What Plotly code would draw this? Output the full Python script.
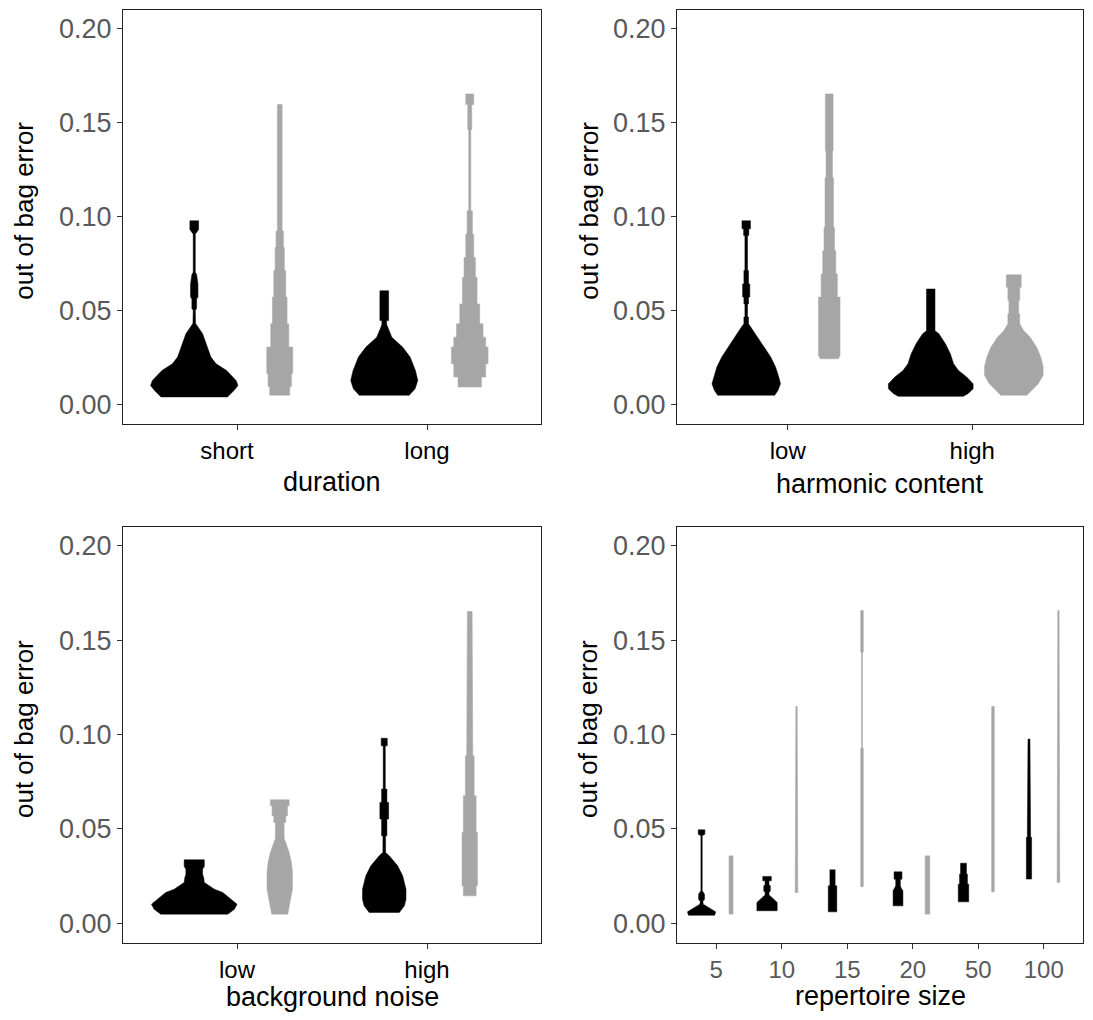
import plotly.graph_objects as go

# ---------------- data ----------------
# Violin profiles: (out-of-bag error, violin full width in category units)
DURATION_CATS = ["short", "long"]
DUR_SHORT_BLACK = [(0.0039, 0.35), (0.0074, 0.42), (0.0100, 0.46), (0.0127, 0.44), (0.0180, 0.34),
                   (0.0215, 0.23), (0.0251, 0.175), (0.0304, 0.14), (0.0375, 0.088), (0.043, 0.014),
                   (0.050, 0.011), (0.051, 0.025), (0.056, 0.025), (0.057, 0.039), (0.064, 0.039),
                   (0.069, 0.025), (0.0702, 0.011), (0.0905, 0.011), (0.092, 0.032), (0.093, 0.046),
                   (0.0976, 0.046)]
DUR_SHORT_GREY = [(0.0048, 0.105), (0.0094, 0.105), (0.0094, 0.123), (0.0163, 0.123), (0.0163, 0.137),
                  (0.0304, 0.137), (0.0304, 0.095), (0.0428, 0.095), (0.0428, 0.077), (0.0570, 0.077),
                  (0.0570, 0.063), (0.0711, 0.063), (0.0711, 0.049), (0.0834, 0.049), (0.0834, 0.039),
                  (0.0922, 0.039), (0.0922, 0.025), (0.1594, 0.025)]
DUR_LONG_BLACK = [(0.0048, 0.263), (0.0083, 0.325), (0.0127, 0.353), (0.0180, 0.328), (0.0251, 0.272),
                  (0.0304, 0.193), (0.0357, 0.079), (0.0410, 0.035), (0.0425, 0.025), (0.0445, 0.025),
                  (0.0445, 0.046), (0.0604, 0.046)]
DUR_LONG_GREY = [(0.0092, 0.123), (0.0145, 0.123), (0.0145, 0.168), (0.0216, 0.168), (0.0216, 0.193),
                 (0.0304, 0.193), (0.0304, 0.168), (0.0357, 0.168), (0.0357, 0.140), (0.0428, 0.140),
                 (0.0428, 0.105), (0.0534, 0.105), (0.0534, 0.077), (0.0675, 0.077), (0.0675, 0.060),
                 (0.0781, 0.060), (0.0781, 0.042), (0.0905, 0.042), (0.0905, 0.028), (0.1029, 0.028),
                 (0.1029, 0.011), (0.1462, 0.011), (0.1462, 0.021), (0.1594, 0.021), (0.1594, 0.042),
                 (0.1651, 0.042)]

HARMONIC_CATS = ["low", "high"]
HARM_LOW_BLACK = [(0.0048, 0.309), (0.0074, 0.345), (0.0109, 0.371), (0.0145, 0.353), (0.0198, 0.318),
                  (0.0251, 0.265), (0.0304, 0.194), (0.0357, 0.124), (0.0410, 0.053), (0.0428, 0.025),
                  (0.0464, 0.025), (0.0464, 0.014), (0.0534, 0.014), (0.0534, 0.025), (0.0570, 0.025),
                  (0.0570, 0.039), (0.0640, 0.039), (0.0640, 0.025), (0.0711, 0.025), (0.0711, 0.014),
                  (0.0898, 0.014), (0.0898, 0.028), (0.0933, 0.028), (0.0933, 0.046), (0.0976, 0.046)]
HARM_LOW_GREY = [(0.0242, 0.099), (0.0261, 0.117), (0.0570, 0.117), (0.0570, 0.088), (0.0693, 0.088),
                 (0.0693, 0.071), (0.0817, 0.071), (0.0817, 0.057), (0.0940, 0.057), (0.0940, 0.046),
                 (0.1205, 0.046), (0.1205, 0.035), (0.1347, 0.035), (0.1347, 0.042), (0.1651, 0.042)]
HARM_HIGH_BLACK = [(0.0042, 0.353), (0.0057, 0.406), (0.0083, 0.459), (0.0109, 0.459), (0.0145, 0.389),
                   (0.0180, 0.300), (0.0216, 0.247), (0.0269, 0.212), (0.0322, 0.159), (0.0375, 0.088),
                   (0.0391, 0.046), (0.0613, 0.046)]
HARM_HIGH_GREY = [(0.0048, 0.141), (0.0074, 0.194), (0.0109, 0.265), (0.0154, 0.318), (0.0198, 0.318),
                  (0.0251, 0.292), (0.0304, 0.247), (0.0357, 0.177), (0.0393, 0.106), (0.0428, 0.064),
                  (0.0481, 0.064), (0.0481, 0.053), (0.0552, 0.053), (0.0552, 0.064), (0.0622, 0.064),
                  (0.0622, 0.081), (0.0689, 0.081)]

NOISE_CATS = ["low", "high"]
NOISE_LOW_BLACK = [(0.0048, 0.353), (0.0074, 0.423), (0.0101, 0.450), (0.0127, 0.388), (0.0163, 0.300),
                   (0.0180, 0.212), (0.0198, 0.159), (0.0216, 0.106), (0.0240, 0.100), (0.0260, 0.088),
                   (0.0287, 0.088), (0.0300, 0.106), (0.0336, 0.106)]
NOISE_LOW_GREY = [(0.0048, 0.085), (0.0074, 0.092), (0.0127, 0.113), (0.0180, 0.134), (0.0269, 0.134),
                  (0.0322, 0.123), (0.0375, 0.099), (0.0428, 0.063), (0.0450, 0.046), (0.0534, 0.046),
                  (0.0534, 0.063), (0.0569, 0.063), (0.0569, 0.081), (0.0622, 0.081), (0.0622, 0.099),
                  (0.0654, 0.099)]
NOISE_HIGH_BLACK = [(0.0057, 0.159), (0.0092, 0.212), (0.0127, 0.229), (0.0180, 0.229), (0.0251, 0.194),
                    (0.0304, 0.141), (0.0357, 0.053), (0.0375, 0.014), (0.0463, 0.014), (0.0463, 0.028),
                    (0.0552, 0.028), (0.0552, 0.046), (0.0640, 0.046), (0.0640, 0.028), (0.0711, 0.028),
                    (0.0711, 0.011), (0.0940, 0.011), (0.0940, 0.032), (0.0980, 0.032)]
NOISE_HIGH_GREY = [(0.0145, 0.067), (0.0198, 0.067), (0.0198, 0.081), (0.0481, 0.081), (0.0481, 0.067),
                   (0.0676, 0.067), (0.0676, 0.046), (0.0888, 0.046), (0.0888, 0.032), (0.0932, 0.032),
                   (0.0932, 0.025), (0.1652, 0.025)]

REPERTOIRE_CATS = ["5", "10", "15", "20", "50", "100"]
REP_5_BLACK = [(0.0042, 0.40), (0.0060, 0.43), (0.0074, 0.30), (0.0090, 0.15), (0.0101, 0.05),
               (0.0115, 0.04), (0.0127, 0.09), (0.0154, 0.09), (0.0172, 0.02), (0.0464, 0.02),
               (0.0472, 0.10), (0.0495, 0.10)]
REP_5_GREY = [(0.0048, 0.06), (0.0357, 0.06)]
REP_10_BLACK = [(0.0066, 0.31), (0.0110, 0.31), (0.0136, 0.15), (0.0150, 0.06), (0.0163, 0.06),
                (0.0170, 0.10), (0.0198, 0.10), (0.0205, 0.06), (0.0225, 0.06), (0.0225, 0.13),
                (0.0248, 0.13)]
REP_10_GREY = [(0.0163, 0.04), (0.0737, 0.04), (0.0737, 0.02), (0.1149, 0.02)]
REP_15_BLACK = [(0.0060, 0.13), (0.0198, 0.13), (0.0198, 0.08), (0.0283, 0.08)]
REP_15_GREY = [(0.0193, 0.04), (0.0927, 0.04), (0.0927, 0.015), (0.1436, 0.015), (0.1436, 0.04),
               (0.1657, 0.04)]
REP_20_BLACK = [(0.0092, 0.15), (0.0172, 0.15), (0.0185, 0.10), (0.0198, 0.07), (0.0233, 0.07),
                (0.0233, 0.12), (0.0272, 0.12)]
REP_20_GREY = [(0.0048, 0.07), (0.0357, 0.07)]
REP_50_BLACK = [(0.0113, 0.16), (0.0207, 0.16), (0.0207, 0.12), (0.0260, 0.12), (0.0260, 0.09),
                (0.0318, 0.09)]
REP_50_GREY = [(0.0166, 0.04), (0.1149, 0.04)]
REP_100_BLACK = [(0.0234, 0.08), (0.0455, 0.08), (0.0455, 0.05), (0.0560, 0.05), (0.0560, 0.03),
                 (0.0976, 0.03)]
REP_100_GREY = [(0.0216, 0.04), (0.0825, 0.04), (0.0825, 0.02), (0.1657, 0.02)]

Y_TICKS = [0.0, 0.05, 0.10, 0.15, 0.20]
Y_TICK_TEXT = ["0.00", "0.05", "0.10", "0.15", "0.20"]
Y_TITLE = "out of bag error"

PANELS = [
    dict(cats=DURATION_CATS, title="duration",
         violins=[(0, "black", DUR_SHORT_BLACK), (0, "grey", DUR_SHORT_GREY),
                  (1, "black", DUR_LONG_BLACK), (1, "grey", DUR_LONG_GREY)]),
    dict(cats=HARMONIC_CATS, title="harmonic content",
         violins=[(0, "black", HARM_LOW_BLACK), (0, "grey", HARM_LOW_GREY),
                  (1, "black", HARM_HIGH_BLACK), (1, "grey", HARM_HIGH_GREY)]),
    dict(cats=NOISE_CATS, title="background noise",
         violins=[(0, "black", NOISE_LOW_BLACK), (0, "grey", NOISE_LOW_GREY),
                  (1, "black", NOISE_HIGH_BLACK), (1, "grey", NOISE_HIGH_GREY)]),
    dict(cats=REPERTOIRE_CATS, title="repertoire size",
         violins=[(0, "black", REP_5_BLACK), (0, "grey", REP_5_GREY),
                  (1, "black", REP_10_BLACK), (1, "grey", REP_10_GREY),
                  (2, "black", REP_15_BLACK), (2, "grey", REP_15_GREY),
                  (3, "black", REP_20_BLACK), (3, "grey", REP_20_GREY),
                  (4, "black", REP_50_BLACK), (4, "grey", REP_50_GREY),
                  (5, "black", REP_100_BLACK), (5, "grey", REP_100_GREY)]),
]

# ---------------- style / layout ----------------
PAGE_OFFSET = 8            # default body margin of the html page
W, H = 1093 - 2 * PAGE_OFFSET, 1020 - 2 * PAGE_OFFSET   # keep the page from scrolling/clipping
COLORS = {"black": "#000000", "grey": "#a6a6a6"}
DODGE = {"black": -0.225, "grey": 0.225}
FONT = "Liberation Sans, Arial, sans-serif"
NBSP = "\u00a0"

# panel boxes in screen pixels: (left, right, top, bottom)
BOXES = [(123, 541, 9.5, 424), (677, 1083, 9.5, 424), (123, 541, 527, 943), (677, 1083, 527, 943)]
YTITLE_X = [24, 589, 24, 588]
XTITLE_Y = [482, 484, 997, 996]
XTICK_COLORS = ["#000000", "#000000", "#000000", "#595959"]


def px_x(v):
    return (v - PAGE_OFFSET) / W


def px_y(v):
    return 1 - (v - PAGE_OFFSET) / H


fig = go.Figure()
layout = dict(width=W, height=H, margin=dict(l=0, r=0, t=0, b=0),
              paper_bgcolor="white", plot_bgcolor="white", showlegend=False,
              font=dict(family=FONT), annotations=[])

for i, panel in enumerate(PANELS):
    n = i + 1
    xa = "x" if n == 1 else f"x{n}"
    ya = "y" if n == 1 else f"y{n}"
    for idx, grp, prof in panel["violins"]:
        c = idx + 1 + DODGE[grp]
        ys = [p[0] for p in prof]
        ws = [p[1] for p in prof]
        xs = [c + w / 2 for w in ws] + [c - w / 2 for w in reversed(ws)]
        yy = ys + ys[::-1]
        fig.add_trace(go.Scatter(x=xs + [xs[0]], y=yy + [yy[0]], mode="lines", fill="toself",
                                 fillcolor=COLORS[grp], line=dict(color=COLORS[grp], width=0.5),
                                 xaxis=xa, yaxis=ya, hoverinfo="skip", showlegend=False))
    l, r, t, b = BOXES[i]
    ncat = len(panel["cats"])
    ticktext = list(panel["cats"])
    if i == 0:
        # the reference shows the first label slightly left of its tick
        ticktext[0] = ticktext[0] + NBSP * 3
    axis_common = dict(showline=True, linecolor="#222222", linewidth=1.3, mirror=True,
                       ticks="outside", ticklen=5, tickcolor="#333333", tickwidth=1.2,
                       showgrid=False, zeroline=False, fixedrange=True)
    layout["xaxis" if n == 1 else f"xaxis{n}"] = dict(
        axis_common, domain=[px_x(l), min(px_x(r), 1.0)], anchor=ya, range=[0.4, ncat + 0.6],
        tickmode="array", tickvals=list(range(1, ncat + 1)), ticktext=ticktext,
        tickfont=dict(size=24, color=XTICK_COLORS[i], family=FONT))
    layout["yaxis" if n == 1 else f"yaxis{n}"] = dict(
        axis_common, domain=[px_y(b), min(px_y(t), 1.0)], anchor=xa, range=[-0.0105, 0.21],
        tickmode="array", tickvals=Y_TICKS, ticktext=Y_TICK_TEXT,
        tickfont=dict(size=27, color="#595959", family=FONT))
    layout["annotations"].append(dict(
        text=Y_TITLE, xref="paper", yref="paper", x=px_x(YTITLE_X[i]), y=px_y((t + b) / 2 - 6),
        xanchor="center", yanchor="middle", textangle=-90, showarrow=False,
        font=dict(size=26, color="#000000", family=FONT)))
    layout["annotations"].append(dict(
        text=panel["title"], xref="paper", yref="paper", x=px_x((l + r) / 2), y=px_y(XTITLE_Y[i]),
        xanchor="center", yanchor="middle", showarrow=False,
        font=dict(size=27, color="#000000", family=FONT)))

fig.update_layout(**layout)
fig.write_html("out.html")
